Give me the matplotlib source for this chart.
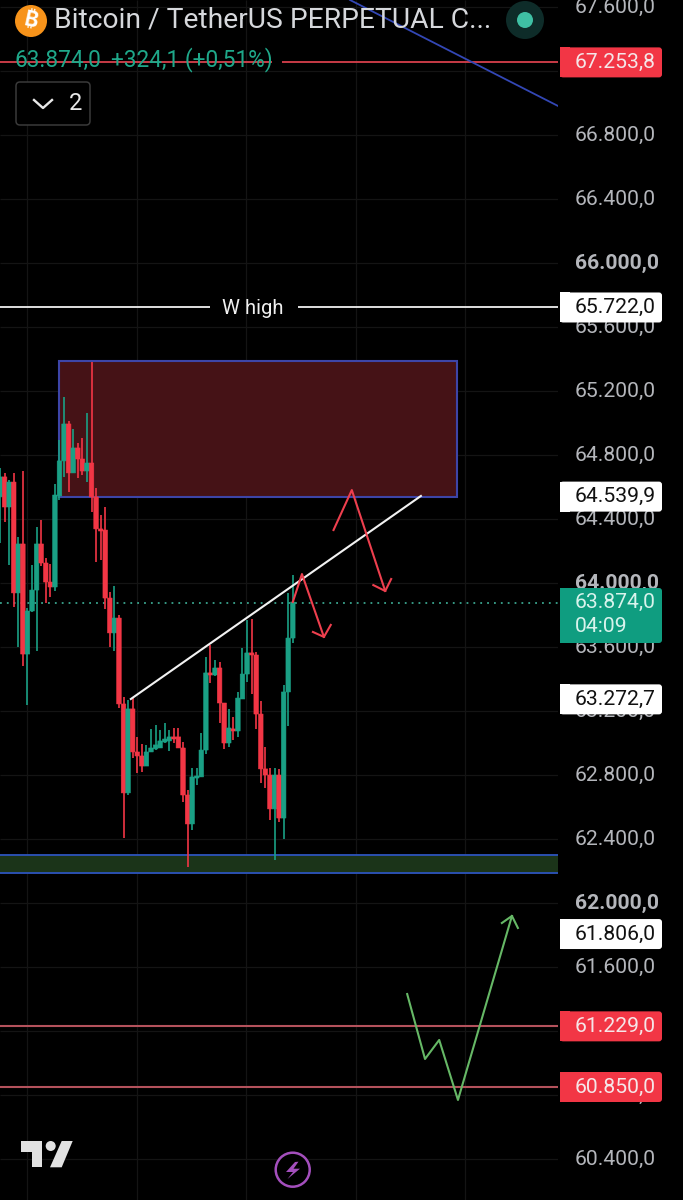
import matplotlib
matplotlib.use('Agg')
import numpy as np
import matplotlib.pyplot as plt
from matplotlib.patches import Circle, FancyBboxPatch, Polygon, Rectangle
from matplotlib.transforms import ScaledTranslation

plt.rcParams['font.family'] = ['Roboto', 'DejaVu Sans']

# bougies (prix)
opens = [64538, 64663, 64475, 64631, 63938, 64244, 63556, 63825, 63956, 64244,
         64125, 64006, 63975, 64544, 64763, 64994, 64688, 64844, 64775, 64700,
         64750, 64538, 64338, 64331, 63906, 63688, 63781, 63244, 62688, 63213,
         62944, 62919, 62856, 62944, 62963, 62969, 63006, 63013, 63038, 63038,
         62969, 62675, 62494, 62781, 62788, 62956, 63438, 63425, 63469, 63250,
         63000, 63088, 63075, 63275, 63431, 63563, 63550, 63181, 62838, 62800,
         62588, 62800, 62531, 63319, 63656]
closes = [64663, 64475, 64631, 63938, 64244, 63556, 63825, 63956, 64244, 64125,
          64006, 63975, 64550, 64763, 64994, 64688, 64844, 64775, 64700, 64750,
          64538, 64338, 64325, 63906, 63688, 63781, 63244, 62688, 63213, 62944,
          62919, 62856, 62944, 62969, 62988, 63013, 63025, 63038, 63025, 62969,
          62675, 62494, 62788, 62794, 62956, 63438, 63425, 63469, 63250, 63000,
          63094, 63075, 63281, 63431, 63563, 63550, 63181, 62838, 62800, 62588,
          62800, 62531, 63319, 63656, 63881]
highs = [64719, 64688, 64644, 64688, 64288, 64700, 63844, 64113, 64350, 64394,
         64156, 64119, 64619, 64894, 65163, 65013, 64963, 64875, 64906, 65063,
         65381, 64594, 64425, 64475, 63944, 63981, 63800, 63288, 63269, 63281,
         63038, 62994, 62988, 63088, 63113, 63081, 63125, 63081, 63094, 63094,
         63006, 62706, 62844, 62844, 63063, 63538, 63613, 63519, 63506, 63250,
         63213, 63163, 63319, 63594, 63769, 63775, 63569, 63263, 62975, 62844,
         62844, 62838, 63363, 63938, 64050]
lows = [64250, 64381, 64113, 63850, 63600, 63481, 63238, 63819, 63575, 64106,
        63875, 63913, 63950, 64519, 64663, 64569, 64688, 64656, 64675, 64631,
        64444, 64131, 64144, 63838, 63600, 63575, 63219, 62406, 62675, 62906,
        62813, 62819, 62856, 62944, 62956, 62969, 63000, 62950, 63000, 62969,
        62631, 62225, 62456, 62738, 62788, 62931, 63375, 63419, 63125, 62963,
        62975, 63019, 63038, 63275, 63381, 63306, 63088, 62750, 62719, 62519,
        62269, 62506, 62400, 63106, 63625]

# axe des prix
tick_prices = [67600, 66800, 66400, 66000, 65600, 65200, 64800, 64400, 64000,
               63600, 63200, 62800, 62400, 62000, 61600, 61200, 60800, 60400]
tick_labels = ['67.600,0', '66.800,0', '66.400,0', '66.000,0', '65.600,0',
               '65.200,0', '64.800,0', '64.400,0', '64.000,0', '63.600,0',
               '63.200,0', '62.800,0', '62.400,0', '62.000,0', '61.600,0',
               '61.200,0', '60.800,0', '60.400,0']
bold_ticks = ['66.000,0', '64.000,0', '62.000,0']
hgrid_prices = [67600, 67200, 66800, 66400, 66000, 65600, 65200, 64800, 64400,
                64000, 63600, 63200, 62800, 62400, 62000, 61600, 61200, 60800,
                60400]
vgrid_bars = [5.9, 29.9, 53.8, 77.8, 101.6]

# dessins
red_box_bars = [12.9, 99.9]
red_box_prices = [64538, 65388]
green_zone_prices = [62187, 62300]
level_top = 67253.8
level_w_high = 65722.0
level_low1 = 61229.0
level_low2 = 60850.0
last_price = 63874.0
blue_bars = [76.5, 122.0]
blue_prices = [67644, 66981]
white_bars = [28.6, 92.0]
white_prices = [63275, 64544]
arrow1_bars = [72.9, 76.9, 84.2]
arrow1_prices = [64331, 64581, 63950]
arrow1_head_bars = [81.6, 84.2, 85.5]
arrow1_head_prices = [63987, 63950, 64025]
arrow2_bars = [64.0, 66.0, 70.8]
arrow2_prices = [63881, 64056, 63663]
arrow2_head_bars = [68.4, 70.8, 72.3]
arrow2_head_prices = [63694, 63663, 63738]
arrow3_bars = [89.0, 92.9, 96.0, 100.1, 111.9]
arrow3_prices = [61431, 61025, 61144, 60769, 61919]
arrow3_head_bars = [109.7, 111.9, 113.2]
arrow3_head_prices = [61875, 61919, 61844]

# étiquettes à droite : texte, prix, couleur de fond, couleur du texte
tags = [('67.253,8', 67253.8, '#f23645', '#f5e6e8'),
        ('65.722,0', 65722.0, '#ffffff', '#111111'),
        ('64.539,9', 64539.9, '#ffffff', '#111111'),
        ('63.272,7', 63272.7, '#ffffff', '#111111'),
        ('61.806,0', 61806.0, '#ffffff', '#111111'),
        ('61.229,0', 61229.0, '#f23645', '#f5e6e8'),
        ('60.850,0', 60850.0, '#f23645', '#f5e6e8')]

GREEN = '#1aa085'
RED = '#f23645'
BLUE = '#3d45a8'
BAR_PX = 4.575
CHART_W = 558
LABEL_SIZE = 15.2


def price_to_px(p):
    return 263 + (66000 - p) * 0.16


fig = plt.figure(figsize=(6.83, 12), dpi=100, facecolor='black')
ax = fig.add_axes([0, 0, CHART_W / 683, 1], facecolor='black')
ax.set_xlim(0, CHART_W / BAR_PX)
ax.set_ylim(67643.75 - 6.25 * 1200, 67643.75)
for s in ax.spines.values():
    s.set_visible(False)
ax.set_xticks([])

ax.hlines(hgrid_prices, 0, CHART_W / BAR_PX, color='#141414', lw=0.9, zorder=0)
ax.vlines(vgrid_bars, ax.get_ylim()[0], ax.get_ylim()[1], color='#141414', lw=0.9, zorder=0)

# zones
ax.add_patch(Rectangle((red_box_bars[0], red_box_prices[0]), red_box_bars[1] - red_box_bars[0],
                       red_box_prices[1] - red_box_prices[0], facecolor='#451216',
                       edgecolor=BLUE, lw=1.5, zorder=1))
ax.axhspan(green_zone_prices[0], green_zone_prices[1], facecolor='#1b3419', edgecolor='none', zorder=1)
ax.hlines(green_zone_prices, 0, CHART_W / BAR_PX, color='#2b50b0', lw=1.4, zorder=1.2)

# niveaux
ax.hlines(level_top, 0, CHART_W / BAR_PX, color='#d8404c', lw=1.3, zorder=1.5)
ax.hlines([level_low1, level_low2], 0, CHART_W / BAR_PX, color='#b4525c', lw=1.5, zorder=1.5)
ax.hlines(level_w_high, 0, 210 / BAR_PX, color='#f0f0f0', lw=1.3, zorder=1.5)
ax.hlines(level_w_high, 298 / BAR_PX, CHART_W / BAR_PX, color='#f0f0f0', lw=1.3, zorder=1.5)
ax.hlines(last_price, 0, CHART_W / BAR_PX, color='#3aa58e', lw=1.3, linestyles=(0, (1, 2.8)), zorder=1.5)

# bougies
bars = np.arange(len(opens))
for i in bars:
    c = GREEN if closes[i] >= opens[i] else RED
    ax.vlines(i, lows[i], highs[i], color=c, lw=1.2, zorder=3)
    body = ax.bar(i, abs(closes[i] - opens[i]), bottom=min(opens[i], closes[i]), width=1.0,
                  color=c, edgecolor=c, linewidth=0.4, zorder=3.1)
    for r in body:
        r.set_snap(False)

# lignes de tendance
ax.plot(blue_bars, blue_prices, color='#3347b5', lw=1.3, zorder=4)
ax.plot(white_bars, white_prices, color='#f2f2f2', lw=1.5, zorder=4)

# flèches
ax.plot(arrow1_bars, arrow1_prices, color='#ee3f4e', lw=1.5, zorder=5)
ax.plot(arrow1_head_bars, arrow1_head_prices, color='#ee3f4e', lw=1.5, zorder=5)
ax.plot(arrow2_bars, arrow2_prices, color='#ee3f4e', lw=1.5, zorder=5)
ax.plot(arrow2_head_bars, arrow2_head_prices, color='#ee3f4e', lw=1.5, zorder=5)
ax.plot(arrow3_bars, arrow3_prices, color='#66b866', lw=1.5, zorder=5)
ax.plot(arrow3_head_bars, arrow3_head_prices, color='#66b866', lw=1.5, zorder=5)

# labels de l'axe
ax.yaxis.tick_right()
ax.set_yticks(tick_prices)
ax.set_yticklabels(tick_labels)
ax.tick_params(axis='y', length=0, pad=12, labelsize=LABEL_SIZE, labelcolor='#b4b6bb')
shift = ScaledTranslation(0, 2 / 100, fig.dpi_scale_trans)
for lab in ax.get_yticklabels():
    lab.set_transform(lab.get_transform() + shift)
    if lab.get_text() in bold_ticks:
        lab.set_fontweight('bold')

# couche interface, en pixels
ui = fig.add_axes([0, 0, 1, 1], facecolor='none', zorder=10)
ui.set_xlim(0, 683)
ui.set_ylim(1200, 0)
ui.axis('off')


def price_tag(y0, y1, color):
    ui.add_patch(FancyBboxPatch((563, y0 + 3), 96, y1 - y0 - 6, boxstyle='round,pad=3,rounding_size=3',
                                facecolor=color, edgecolor='none'))
    ui.add_patch(Rectangle((560, y0), 10, y1 - y0, facecolor=color, edgecolor='none'))


for txt, p, bg, fg in tags:
    yc = price_to_px(p)
    price_tag(yc - 15, yc + 15, bg)
    ui.text(575, yc, txt, color=fg, fontsize=LABEL_SIZE, va='center', ha='left')

# prix courant
price_tag(588, 643, '#0f9d80')
ui.text(575, 602, '63.874,0', color='#d8f3ec', fontsize=LABEL_SIZE, va='center', ha='left')
ui.text(575, 627, '04:09', color='#d8f3ec', fontsize=LABEL_SIZE, va='center', ha='left')

# W high
ui.text(253, 308, 'W high', color='#f0f0f0', fontsize=14.6, va='center', ha='center')

# en-tête
ui.add_patch(Circle((31, 21), 16, facecolor='#f7931a', edgecolor='none'))
ui.text(31, 21, '₿', color='white', fontsize=15, fontweight='bold', va='center', ha='center',
        family=['Inter', 'Noto Sans', 'Open Sans', 'Lato', 'Liberation Sans'], rotation=-12)
ui.text(54, 20, 'Bitcoin / TetherUS PERPETUAL C...', color='#d6d8dc', fontsize=20.3, va='center', ha='left')
ui.add_patch(Rectangle((272, 58), 10, 8, facecolor='black', edgecolor='none'))
ui.text(14, 60, '63.874,0', color='#1fa88a', fontsize=16.3, va='center', ha='left')
ui.text(111, 60, '+324,1 (+0,51%)', color='#1fa88a', fontsize=16.3, va='center', ha='left')

ui.add_patch(FancyBboxPatch((19, 85), 68, 37, boxstyle='round,pad=3,rounding_size=4',
                            facecolor='black', edgecolor='#3a3a3a', lw=1.1))
ui.plot([34, 43, 52], [100, 108, 100], color='#e8e8e8', lw=1.7)
ui.text(76, 103, '2', color='#e8e8e8', fontsize=17, va='center', ha='center')

ui.add_patch(Circle((525, 20), 19, facecolor='#0e2c29', edgecolor='none'))
ui.add_patch(Circle((525, 20), 8, facecolor='#3fc0a4', edgecolor='none'))

# logo TradingView et bouton éclair
ui.add_patch(Polygon([(20.7, 1141), (42.3, 1141), (42.3, 1167.3), (31.7, 1167.3),
                      (31.7, 1151.7), (20.7, 1151.7)], facecolor='#e2e2e2', edgecolor='none'))
ui.add_patch(Circle((50.7, 1146), 5, facecolor='#e2e2e2', edgecolor='none'))
ui.add_patch(Polygon([(61.7, 1141), (72.7, 1141), (61.7, 1167.3), (50, 1167.3)],
                     facecolor='#e2e2e2', edgecolor='none'))
ui.add_patch(Circle((292.7, 1169.7), 17, facecolor='black', edgecolor='#a44fbd', lw=1.8))
ui.add_patch(Polygon([(295, 1162), (286, 1172), (293, 1172), (287.5, 1179), (300, 1168.7),
                      (293.5, 1168.7), (298.5, 1161.7)], facecolor='#a44fbd', edgecolor='none'))

fig.savefig('out.png', dpi=100, facecolor='black')
